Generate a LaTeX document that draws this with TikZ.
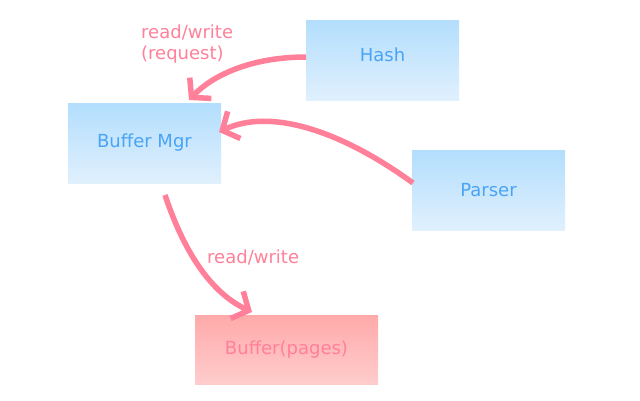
\documentclass[tikz,border=0pt]{standalone}
\usepackage{fontspec}
\setmainfont{DejaVu Sans}
\usetikzlibrary{arrows.meta}
\definecolor{arrowpink}{RGB}{255,128,152}
\definecolor{bluetext}{RGB}{74,164,245}
\definecolor{bluetop}{RGB}{179,222,253}
\definecolor{bluebot}{RGB}{224,240,253}
\definecolor{pinktop}{RGB}{255,170,170}
\definecolor{pinkbot}{RGB}{255,204,204}
\tikzset{
  bluebox/.style={rectangle, inner sep=0pt, minimum width=153pt, minimum height=80pt,
    top color=bluetop, bottom color=bluebot, text=bluetext, font=\fontsize{18}{21}\selectfont},
  pinkbox/.style={rectangle, inner sep=0pt, minimum width=183pt, minimum height=69pt,
    top color=pinktop, bottom color=pinkbot, text=arrowpink, font=\fontsize{18}{21}\selectfont},
  conn/.style={draw=arrowpink, line width=5.5pt, -{Straight Barb[length=13pt,width=30pt]}},
  lbl/.style={inner sep=0pt, text=arrowpink, font=\fontsize{18}{21}\selectfont}
}
\begin{document}
\begin{tikzpicture}[x=1pt,y=-1pt]
\useasboundingbox (0,0) rectangle (640,400);
\node[bluebox, text depth=10pt] (hash) at (382.5,60) {Hash};
\node[bluebox] (mgr) at (144.5,143) {Buffer Mgr};
\node[bluebox] (parser) at (488.5,190) {Parser};
\node[pinkbox] (pages) at (286.5,349.5) {Buffer(pages)};
\coordinate (t1) at (189,100);
\coordinate (t2) at (219,132);
\coordinate (s3) at (165,195);
\coordinate (t3) at (252,312);
\coordinate (s2) at (413,183);
\coordinate (s1) at (306,57);
\draw[conn] (s1) .. controls (255,57) and (215,73) .. (t1);
\draw[conn] (s2) .. controls (340,130) and (270,108) .. (t2);
\draw[conn] (s3) .. controls (180,240) and (205,290) .. (t3);
\node[lbl, anchor=north west, align=left] (l1) at (141,25) {read/write\\(request)};
\node[lbl, anchor=base west] (l2) at (207,263) {read/write};
\end{tikzpicture}
\end{document}
